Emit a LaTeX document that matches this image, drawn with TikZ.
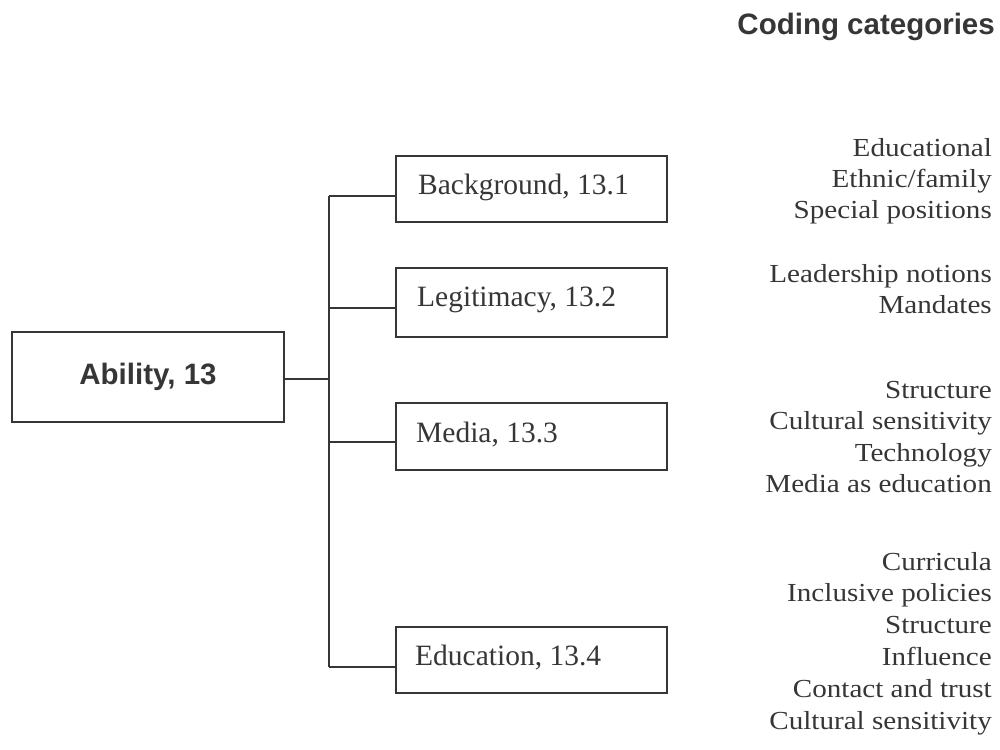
\documentclass[tikz,border=0pt]{standalone}
\usepackage{fontspec}
\setmainfont{Liberation Serif}
\newfontfamily\headfont{Liberation Sans}
\newfontfamily\catfont[FakeStretch=1.12]{Liberation Serif}
\definecolor{ink}{HTML}{363636}
\begin{document}
\begin{tikzpicture}[x=1pt,y=-1pt,
  box/.style={draw=ink, line width=1.6pt, rectangle, inner sep=0pt},
  lbl/.style={anchor=base west, inner sep=0pt, text=ink, font=\fontsize{29.5}{32}\selectfont},
  cat/.style={anchor=base east, inner sep=0pt, text=ink, font=\catfont\fontsize{26}{31.5}\selectfont},
  conn/.style={draw=ink, line width=1.5pt}]
\useasboundingbox (0,0) rectangle (1000,749);

% title
\node[anchor=base east, inner sep=0pt, text=ink, font=\headfont\bfseries\fontsize{29.5}{32}\selectfont] (title) at (995,35) {Coding categories};

% root
\node[box, minimum width=272pt, minimum height=90pt, text=ink, font=\headfont\bfseries\fontsize{29.5}{32}\selectfont] (root) at (148,377) {Ability, 13};

% child boxes
\node[box, minimum width=271pt, minimum height=66pt] (b1) at (531.5,189) {};
\node[box, minimum width=271pt, minimum height=69pt] (b2) at (531.5,302.5) {};
\node[box, minimum width=271pt, minimum height=67pt] (b3) at (531.5,436.5) {};
\node[box, minimum width=271pt, minimum height=66pt] (b4) at (531.5,660) {};

\node[lbl] (t1) at (418,194) {Background, 13.1};
\node[lbl] (t2) at (417,306) {Legitimacy, 13.2};
\node[lbl] (t3) at (416,442) {Media, 13.3};
\node[lbl] (t4) at (415,665) {Education, 13.4};

% connectors
\coordinate (trunk) at (329,379);
\coordinate (j1) at (329,196);
\coordinate (j2) at (329,308);
\coordinate (j3) at (329,442);
\coordinate (j4) at (329,667);
\draw[conn] (root.east |- trunk) -- (trunk);
\draw[conn] (j1) -- (j4);
\draw[conn] (j1) -- (b1.west |- j1);
\draw[conn] (j2) -- (b2.west |- j2);
\draw[conn] (j3) -- (b3.west |- j3);
\draw[conn] (j4) -- (b4.west |- j4);

% coding categories
\foreach \t [count=\i] in {Educational, Ethnic/family, Special positions}
  \node[cat] (ga\i) at (992,{156+31*(\i-1)}) {\t};
\foreach \t [count=\i] in {Leadership notions, Mandates}
  \node[cat] (gb\i) at (992,{282+31*(\i-1)}) {\t};
\foreach \t [count=\i] in {Structure, Cultural sensitivity, Technology, Media as education}
  \node[cat] (gc\i) at (992,{398+31.5*(\i-1)}) {\t};
\foreach \t [count=\i] in {Curricula, Inclusive policies, Structure, Influence, Contact and trust, Cultural sensitivity}
  \node[cat] (gd\i) at (992,{570+31.8*(\i-1)}) {\t};
\end{tikzpicture}
\end{document}
